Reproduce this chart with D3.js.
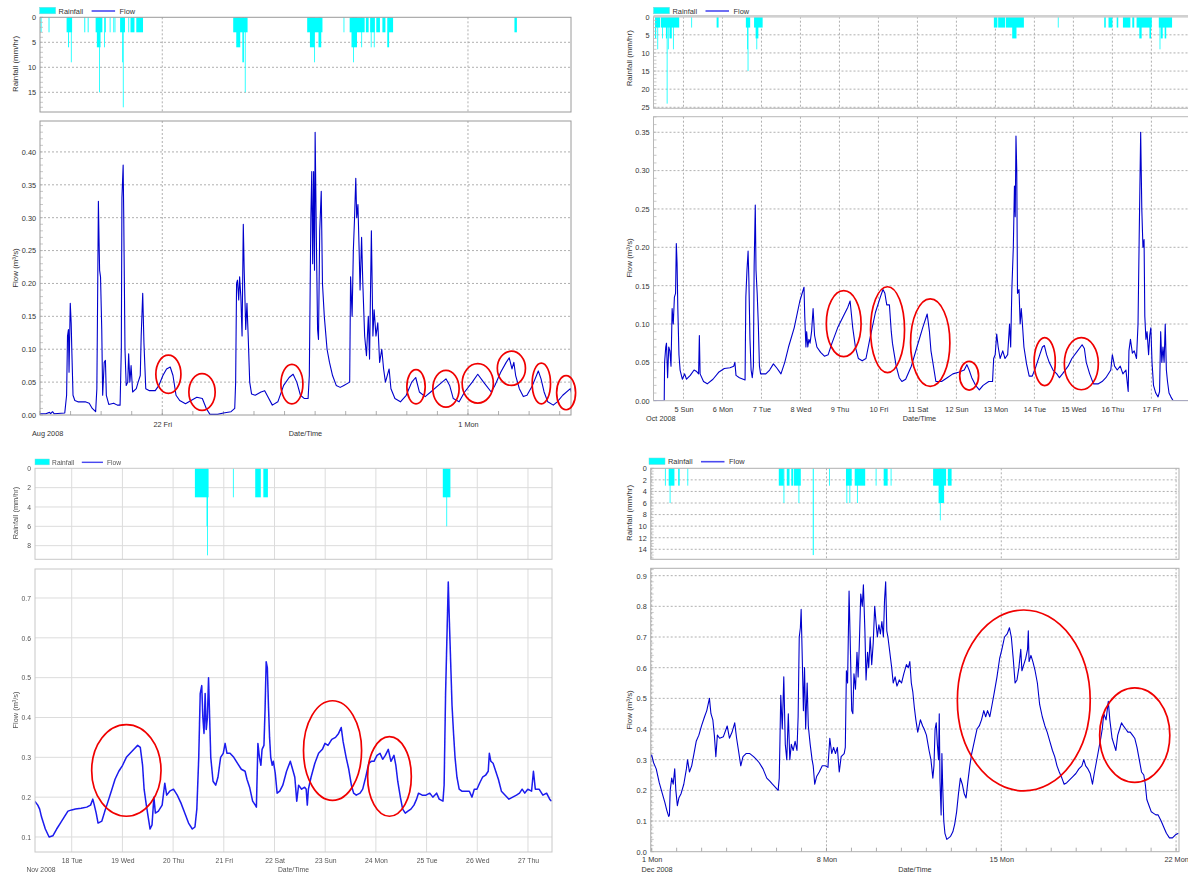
<!DOCTYPE html>
<html><head><meta charset="utf-8">
<script src="https://cdn.jsdelivr.net/npm/d3@7"></script>
<style>body{margin:0;background:#fff}</style>
</head><body>
<script>
// ---------- DATA (times = fractional day of the month) ----------
// Panel 1: August 2008 (days > 31 run into September)
const augFlow = [[18.00,0.002],[18.19,0.002],[18.31,0.004],[18.35,0.002],[18.41,0.005],[18.46,0.002],[18.81,0.003],[18.87,0.03],[18.90,0.12],[18.93,0.13],[18.95,0.065],[18.99,0.17],[19.02,0.14],[19.04,0.10],[19.08,0.03],[19.14,0.022],[19.24,0.02],[19.48,0.02],[19.61,0.018],[19.71,0.01],[19.82,0.005],[19.86,0.04],[19.88,0.15],[19.91,0.325],[19.93,0.27],[19.95,0.22],[19.98,0.21],[20.02,0.13],[20.05,0.03],[20.10,0.08],[20.14,0.083],[20.17,0.03],[20.25,0.016],[20.41,0.018],[20.53,0.015],[20.62,0.015],[20.66,0.10],[20.68,0.33],[20.72,0.38],[20.74,0.30],[20.78,0.10],[20.82,0.045],[20.87,0.05],[20.90,0.093],[20.94,0.05],[20.98,0.075],[21.03,0.035],[21.15,0.04],[21.21,0.05],[21.28,0.06],[21.31,0.12],[21.36,0.185],[21.40,0.11],[21.46,0.04],[21.58,0.037],[21.77,0.037],[21.89,0.045],[22.02,0.06],[22.14,0.07],[22.26,0.073],[22.35,0.06],[22.45,0.03],[22.57,0.022],[22.76,0.017],[22.94,0.022],[23.13,0.027],[23.31,0.025],[23.44,0.01],[23.56,0.001],[23.81,0.001],[24.00,0.003],[24.25,0.005],[24.37,0.01],[24.40,0.05],[24.43,0.20],[24.46,0.205],[24.50,0.175],[24.53,0.21],[24.57,0.18],[24.61,0.12],[24.65,0.29],[24.68,0.22],[24.73,0.13],[24.77,0.17],[24.81,0.12],[24.86,0.05],[24.92,0.032],[25.04,0.03],[25.23,0.035],[25.35,0.037],[25.45,0.028],[25.60,0.015],[25.78,0.02],[25.97,0.045],[26.15,0.057],[26.28,0.062],[26.40,0.05],[26.52,0.03],[26.65,0.025],[26.77,0.025],[26.81,0.06],[26.86,0.30],[26.89,0.37],[26.92,0.23],[26.95,0.37],[26.98,0.22],[27.00,0.43],[27.04,0.27],[27.08,0.13],[27.11,0.115],[27.15,0.28],[27.20,0.34],[27.24,0.20],[27.30,0.15],[27.39,0.10],[27.47,0.08],[27.57,0.06],[27.69,0.045],[27.82,0.042],[27.94,0.045],[28.13,0.05],[28.16,0.21],[28.21,0.15],[28.25,0.25],[28.29,0.30],[28.33,0.36],[28.36,0.30],[28.40,0.32],[28.44,0.25],[28.47,0.19],[28.52,0.27],[28.56,0.20],[28.62,0.12],[28.68,0.09],[28.74,0.15],[28.78,0.085],[28.84,0.28],[28.89,0.12],[28.93,0.16],[28.99,0.12],[29.05,0.14],[29.11,0.08],[29.18,0.10],[29.24,0.07],[29.30,0.05],[29.42,0.07],[29.48,0.04],[29.61,0.025],[29.79,0.02],[29.98,0.03],[30.16,0.05],[30.29,0.057],[30.41,0.035],[30.60,0.028],[30.78,0.035],[31.03,0.045],[31.28,0.055],[31.40,0.045],[31.52,0.025],[31.71,0.02],[31.89,0.035],[32.14,0.05],[32.32,0.062],[32.51,0.05],[32.76,0.035],[32.88,0.045],[33.07,0.065],[33.25,0.08],[33.35,0.087],[33.44,0.07],[33.50,0.08],[33.56,0.06],[33.68,0.04],[33.81,0.028],[33.93,0.03],[34.11,0.045],[34.30,0.067],[34.39,0.055],[34.49,0.035],[34.61,0.02],[34.79,0.015],[34.92,0.02],[35.10,0.03],[35.35,0.04],[35.41,0.03]];
// rainfall: [start, end, mm/hr]
const augRain = [[18.02,18.05,3],[18.28,18.31,3],[18.87,19.05,3],[18.92,18.95,6],[19.01,19.03,9],[19.45,19.48,3],[19.56,19.59,3],[19.82,20.04,3],[19.86,19.98,6],[19.93,19.95,15],[20.10,20.12,6],[20.13,20.15,3],[20.28,20.30,3],[20.40,20.42,3],[20.44,20.46,3],[20.62,20.78,3],[20.69,20.71,9],[20.71,20.73,18],[20.89,20.91,3],[20.96,21.09,3],[21.15,21.37,3],[24.32,24.79,3],[24.42,24.55,6],[24.62,24.67,9],[24.70,24.72,15],[26.74,27.24,3],[26.83,26.98,6],[26.97,26.99,9],[27.11,27.20,6],[27.93,27.95,3],[28.13,28.62,3],[28.66,28.75,3],[28.80,28.95,3],[29.00,29.12,3],[29.20,29.30,3],[29.38,29.55,3],[28.19,28.37,6],[28.24,28.26,9],[28.51,28.53,6],[28.82,28.84,6],[28.92,28.94,6],[29.36,29.42,6],[33.52,33.60,3]];
// circles: [centre day, centre flow, half-width (days), half-height (flow)]
const augCircles = [[22.20,0.062,0.41,0.029],[23.30,0.035,0.43,0.028],[26.24,0.047,0.36,0.030],[30.30,0.043,0.30,0.026],[31.28,0.040,0.43,0.028],[32.32,0.048,0.51,0.030],[33.42,0.071,0.46,0.026],[34.40,0.048,0.30,0.031],[35.21,0.034,0.31,0.026]];
const augMajorDays = [22, 32];
const augFlowTicks = [0,0.05,0.10,0.15,0.20,0.25,0.30,0.35,0.40];
const augRainTicks = [0,5,10,15];

// Panel 2: October 2008
const octFlow = [[4.205,0],[4.506,0],[4.516,0.05],[4.545,0.07],[4.564,0.075],[4.593,0.03],[4.622,0.07],[4.651,0.065],[4.680,0.045],[4.709,0.12],[4.738,0.10],[4.767,0.135],[4.797,0.14],[4.816,0.205],[4.835,0.18],[4.855,0.12],[4.884,0.06],[4.913,0.04],[4.971,0.028],[5.029,0.035],[5.078,0.028],[5.174,0.033],[5.271,0.04],[5.339,0.038],[5.388,0.035],[5.407,0.085],[5.426,0.035],[5.514,0.025],[5.610,0.022],[5.756,0.028],[5.901,0.037],[6.047,0.042],[6.192,0.043],[6.289,0.045],[6.318,0.05],[6.347,0.033],[6.434,0.03],[6.531,0.028],[6.579,0.027],[6.599,0.135],[6.628,0.17],[6.657,0.195],[6.676,0.16],[6.705,0.08],[6.734,0.04],[6.764,0.03],[6.793,0.045],[6.812,0.175],[6.841,0.255],[6.860,0.17],[6.890,0.14],[6.919,0.10],[6.948,0.045],[6.977,0.035],[7.112,0.035],[7.209,0.04],[7.306,0.048],[7.403,0.042],[7.500,0.035],[7.597,0.05],[7.694,0.07],[7.839,0.095],[7.984,0.13],[8.091,0.148],[8.110,0.11],[8.140,0.07],[8.159,0.09],[8.188,0.07],[8.217,0.08],[8.246,0.075],[8.285,0.09],[8.324,0.12],[8.362,0.085],[8.421,0.07],[8.517,0.063],[8.614,0.058],[8.711,0.06],[8.808,0.075],[8.953,0.095],[9.099,0.11],[9.215,0.122],[9.273,0.13],[9.341,0.095],[9.409,0.07],[9.486,0.055],[9.583,0.052],[9.680,0.055],[9.777,0.08],[9.922,0.115],[10.048,0.135],[10.116,0.145],[10.165,0.14],[10.213,0.125],[10.281,0.125],[10.329,0.09],[10.359,0.075],[10.407,0.06],[10.455,0.045],[10.533,0.03],[10.601,0.025],[10.698,0.028],[10.843,0.045],[10.988,0.07],[11.134,0.095],[11.250,0.113],[11.308,0.09],[11.347,0.065],[11.395,0.05],[11.473,0.025],[11.618,0.025],[11.764,0.03],[11.909,0.035],[12.054,0.037],[12.200,0.04],[12.267,0.047],[12.326,0.04],[12.393,0.03],[12.490,0.02],[12.587,0.014],[12.684,0.02],[12.829,0.025],[12.926,0.025],[12.955,0.055],[12.994,0.06],[13.033,0.087],[13.071,0.07],[13.120,0.055],[13.188,0.065],[13.246,0.055],[13.314,0.06],[13.362,0.10],[13.391,0.07],[13.421,0.145],[13.459,0.20],[13.488,0.28],[13.508,0.24],[13.527,0.345],[13.547,0.30],[13.566,0.14],[13.605,0.145],[13.634,0.10],[13.663,0.12],[13.692,0.10],[13.731,0.07],[13.798,0.048],[13.866,0.032],[13.944,0.032],[14.041,0.045],[14.138,0.06],[14.205,0.07],[14.254,0.072],[14.312,0.06],[14.380,0.05],[14.477,0.04],[14.574,0.035],[14.641,0.03],[14.719,0.035],[14.864,0.045],[14.961,0.055],[15.107,0.065],[15.223,0.073],[15.281,0.068],[15.329,0.05],[15.417,0.035],[15.514,0.022],[15.640,0.022],[15.736,0.025],[15.833,0.03],[15.959,0.04],[15.998,0.06],[16.056,0.045],[16.124,0.04],[16.202,0.045],[16.269,0.035],[16.347,0.04],[16.405,0.012],[16.424,0.065],[16.463,0.08],[16.512,0.062],[16.560,0.065],[16.618,0.055],[16.657,0.10],[16.686,0.21],[16.725,0.35],[16.754,0.25],[16.783,0.20],[16.812,0.21],[16.831,0.11],[16.860,0.08],[16.889,0.09],[16.928,0.06],[16.957,0.085],[16.986,0.095],[17.016,0.05],[17.054,0.02],[17.112,0.01],[17.171,0.005],[17.209,0.012],[17.238,0.09],[17.267,0.05],[17.297,0.07],[17.326,0.05],[17.355,0.10],[17.384,0.04],[17.413,0.025],[17.452,0.01],[17.500,0.005],[17.558,0],[17.990,0]];
const octRain = [[4.27,4.40,3],[4.42,4.89,3],[4.27,4.30,6],[4.33,4.345,9],[4.45,4.47,6],[4.55,4.58,6],[4.57,4.58,24],[4.60,4.61,9],[4.64,4.70,6],[4.73,4.745,9],[5.20,5.215,3],[5.85,5.90,3],[6.60,6.71,3],[6.63,6.64,9],[6.645,6.655,15],[6.81,7.03,3],[6.85,6.92,6],[6.87,6.885,9],[12.96,13.05,3],[13.07,13.25,3],[13.27,13.45,3],[13.47,13.73,3],[13.43,13.54,6],[14.60,14.615,3],[15.79,15.83,3],[15.90,16.00,3],[16.11,16.15,3],[16.27,16.46,3],[16.51,16.56,3],[16.62,17.01,3],[16.69,16.75,6],[16.95,16.99,6],[17.19,17.53,3],[17.21,17.225,9],[17.24,17.29,6],[17.34,17.38,6]];
const octCircles = [[9.109,0.1004,0.446,0.043],[10.233,0.0926,0.436,0.056],[11.328,0.0757,0.504,0.057],[12.326,0.0326,0.242,0.0187],[14.264,0.0509,0.271,0.0313],[15.203,0.0483,0.436,0.034]];
const octMajorDays = [5,6,7,8,9,10,11,12,13,14,15,16,17];
const octFlowTicks = [0,0.05,0.10,0.15,0.20,0.25,0.30,0.35];
const octRainTicks = [0,5,10,15,20,25];

// Panel 3: November 2008
const novFlow = [[17.271,0.19],[17.331,0.18],[17.368,0.17],[17.405,0.15],[17.480,0.12],[17.554,0.10],[17.628,0.103],[17.703,0.12],[17.777,0.135],[17.851,0.15],[17.926,0.165],[18.000,0.168],[18.074,0.17],[18.186,0.172],[18.297,0.175],[18.372,0.18],[18.416,0.195],[18.446,0.18],[18.483,0.16],[18.520,0.135],[18.595,0.14],[18.654,0.165],[18.706,0.185],[18.781,0.215],[18.855,0.245],[18.929,0.265],[19.004,0.28],[19.078,0.30],[19.152,0.31],[19.227,0.32],[19.301,0.33],[19.353,0.325],[19.398,0.28],[19.428,0.22],[19.472,0.18],[19.509,0.15],[19.546,0.12],[19.584,0.13],[19.621,0.20],[19.651,0.16],[19.710,0.165],[19.784,0.18],[19.836,0.235],[19.874,0.205],[19.933,0.215],[20.007,0.22],[20.082,0.205],[20.156,0.185],[20.230,0.16],[20.305,0.135],[20.379,0.12],[20.431,0.125],[20.468,0.17],[20.506,0.30],[20.535,0.46],[20.565,0.48],[20.587,0.40],[20.610,0.36],[20.632,0.46],[20.654,0.37],[20.677,0.40],[20.699,0.50],[20.721,0.40],[20.743,0.30],[20.788,0.24],[20.840,0.23],[20.885,0.25],[20.937,0.30],[20.989,0.31],[21.026,0.335],[21.063,0.31],[21.123,0.31],[21.197,0.30],[21.271,0.285],[21.346,0.27],[21.420,0.265],[21.457,0.245],[21.509,0.225],[21.569,0.19],[21.621,0.18],[21.643,0.175],[21.673,0.335],[21.703,0.30],[21.732,0.28],[21.755,0.32],[21.792,0.33],[21.814,0.42],[21.836,0.54],[21.859,0.525],[21.881,0.43],[21.903,0.35],[21.926,0.30],[21.955,0.28],[21.978,0.29],[22.015,0.26],[22.052,0.21],[22.104,0.215],[22.164,0.23],[22.238,0.265],[22.312,0.29],[22.357,0.27],[22.401,0.25],[22.439,0.19],[22.476,0.23],[22.535,0.22],[22.595,0.225],[22.625,0.22],[22.647,0.18],[22.669,0.22],[22.721,0.25],[22.796,0.285],[22.870,0.31],[22.944,0.32],[22.996,0.335],[23.056,0.33],[23.130,0.345],[23.204,0.35],[23.264,0.36],[23.316,0.375],[23.353,0.34],[23.413,0.30],[23.465,0.27],[23.517,0.23],[23.561,0.21],[23.613,0.205],[23.688,0.21],[23.740,0.22],[23.799,0.25],[23.859,0.285],[23.911,0.29],[23.963,0.29],[24.022,0.305],[24.082,0.31],[24.134,0.295],[24.186,0.305],[24.245,0.32],[24.297,0.29],[24.357,0.305],[24.394,0.28],[24.431,0.24],[24.483,0.20],[24.528,0.17],[24.580,0.16],[24.632,0.165],[24.691,0.17],[24.751,0.18],[24.803,0.195],[24.840,0.21],[24.914,0.205],[24.989,0.205],[25.063,0.21],[25.123,0.20],[25.197,0.21],[25.249,0.195],[25.323,0.19],[25.346,0.23],[25.375,0.46],[25.405,0.62],[25.428,0.74],[25.450,0.64],[25.480,0.52],[25.502,0.43],[25.532,0.36],[25.561,0.30],[25.599,0.25],[25.643,0.22],[25.695,0.215],[25.770,0.215],[25.844,0.215],[25.896,0.20],[25.941,0.22],[25.993,0.22],[26.045,0.235],[26.104,0.25],[26.164,0.255],[26.216,0.265],[26.238,0.31],[26.268,0.29],[26.312,0.285],[26.364,0.265],[26.416,0.245],[26.476,0.215],[26.550,0.205],[26.625,0.195],[26.699,0.20],[26.773,0.205],[26.833,0.21],[26.885,0.22],[26.937,0.21],[26.996,0.22],[27.071,0.215],[27.108,0.265],[27.145,0.22],[27.219,0.22],[27.294,0.205],[27.368,0.21],[27.428,0.195],[27.465,0.19]];
const novRain = [[20.43,20.70,3],[20.66,20.685,6],[20.67,20.68,9],[21.18,21.195,3],[21.62,21.73,3],[21.78,21.87,3],[25.32,25.47,3],[25.39,25.405,6]];
const novCircles = [[19.078,0.267,0.684,0.115],[23.145,0.317,0.573,0.125],[24.268,0.252,0.431,0.100]];
const novMajorDays = [18,19,20,21,22,23,24,25,26,27];
const novFlowTicks = [0.1,0.2,0.3,0.4,0.5,0.6,0.7];
const novRainTicks = [0,2,4,6,8];

// Panel 4: December 2008
const decFlow = [[0.970,0.31],[1.000,0.315],[1.076,0.29],[1.181,0.27],[1.302,0.225],[1.423,0.19],[1.529,0.16],[1.605,0.135],[1.680,0.115],[1.710,0.12],[1.741,0.20],[1.801,0.24],[1.861,0.22],[1.922,0.27],[1.967,0.20],[2.028,0.15],[2.088,0.175],[2.179,0.19],[2.285,0.22],[2.390,0.27],[2.436,0.30],[2.511,0.26],[2.602,0.28],[2.693,0.32],[2.783,0.36],[2.889,0.38],[2.995,0.41],[3.116,0.44],[3.206,0.46],[3.312,0.50],[3.373,0.45],[3.448,0.43],[3.509,0.38],[3.569,0.31],[3.630,0.38],[3.720,0.37],[3.871,0.375],[4.023,0.41],[4.113,0.37],[4.219,0.39],[4.325,0.42],[4.400,0.37],[4.476,0.33],[4.567,0.28],[4.657,0.31],[4.778,0.32],[4.929,0.32],[5.080,0.31],[5.201,0.30],[5.307,0.29],[5.458,0.27],[5.609,0.24],[5.730,0.23],[5.836,0.22],[5.957,0.21],[6.063,0.20],[6.108,0.24],[6.138,0.37],[6.169,0.51],[6.229,0.40],[6.290,0.57],[6.350,0.35],[6.410,0.30],[6.471,0.45],[6.531,0.30],[6.592,0.35],[6.667,0.33],[6.743,0.36],[6.818,0.33],[6.864,0.44],[6.909,0.70],[6.954,0.73],[6.985,0.79],[7.030,0.63],[7.075,0.46],[7.121,0.60],[7.166,0.40],[7.226,0.55],[7.272,0.41],[7.347,0.35],[7.423,0.30],[7.468,0.28],[7.529,0.22],[7.604,0.245],[7.710,0.26],[7.831,0.28],[7.952,0.28],[8.058,0.275],[8.133,0.37],[8.209,0.32],[8.284,0.34],[8.360,0.32],[8.435,0.34],[8.511,0.26],[8.587,0.31],[8.708,0.32],[8.753,0.34],[8.798,0.59],[8.844,0.55],[8.904,0.85],[8.949,0.69],[9.010,0.46],[9.055,0.45],[9.100,0.58],[9.161,0.53],[9.221,0.65],[9.267,0.57],[9.312,0.67],[9.372,0.84],[9.433,0.80],[9.478,0.87],[9.538,0.72],[9.584,0.56],[9.644,0.65],[9.690,0.60],[9.750,0.70],[9.811,0.61],[9.871,0.68],[9.931,0.80],[9.992,0.74],[10.037,0.70],[10.098,0.74],[10.158,0.71],[10.218,0.75],[10.279,0.70],[10.324,0.82],[10.370,0.88],[10.415,0.72],[10.460,0.70],[10.521,0.66],[10.611,0.60],[10.672,0.55],[10.748,0.57],[10.823,0.54],[10.914,0.56],[11.005,0.55],[11.095,0.58],[11.201,0.61],[11.277,0.60],[11.337,0.62],[11.397,0.55],[11.458,0.52],[11.518,0.47],[11.579,0.43],[11.654,0.39],[11.760,0.43],[11.851,0.41],[11.911,0.40],[12.002,0.38],[12.108,0.33],[12.183,0.30],[12.259,0.24],[12.304,0.28],[12.349,0.40],[12.395,0.42],[12.440,0.35],[12.486,0.30],[12.516,0.45],[12.546,0.23],[12.591,0.12],[12.622,0.32],[12.652,0.22],[12.697,0.10],[12.743,0.06],[12.818,0.04],[12.894,0.045],[12.969,0.05],[13.060,0.065],[13.135,0.09],[13.211,0.13],[13.287,0.19],[13.362,0.24],[13.438,0.22],[13.513,0.19],[13.589,0.175],[13.664,0.23],[13.740,0.28],[13.815,0.32],[13.921,0.36],[14.027,0.40],[14.118,0.41],[14.208,0.43],[14.299,0.46],[14.375,0.44],[14.450,0.46],[14.541,0.44],[14.632,0.48],[14.722,0.52],[14.828,0.57],[14.934,0.63],[15.024,0.66],[15.130,0.70],[15.236,0.71],[15.327,0.73],[15.402,0.70],[15.478,0.63],[15.553,0.55],[15.629,0.56],[15.705,0.60],[15.780,0.66],[15.826,0.59],[15.901,0.61],[15.977,0.63],[16.052,0.66],[16.082,0.72],[16.113,0.62],[16.188,0.64],[16.264,0.62],[16.354,0.59],[16.445,0.55],[16.536,0.48],[16.642,0.44],[16.747,0.41],[16.838,0.39],[16.944,0.36],[17.050,0.33],[17.140,0.31],[17.231,0.28],[17.322,0.26],[17.427,0.24],[17.518,0.22],[17.624,0.225],[17.745,0.235],[17.866,0.245],[17.987,0.255],[18.108,0.27],[18.228,0.28],[18.304,0.30],[18.380,0.28],[18.470,0.27],[18.561,0.255],[18.652,0.22],[18.712,0.25],[18.803,0.29],[18.893,0.33],[18.984,0.37],[19.044,0.40],[19.105,0.45],[19.195,0.43],[19.286,0.49],[19.347,0.43],[19.437,0.37],[19.513,0.35],[19.589,0.33],[19.664,0.38],[19.740,0.40],[19.815,0.42],[19.891,0.41],[19.982,0.40],[20.072,0.39],[20.163,0.39],[20.254,0.38],[20.344,0.37],[20.435,0.34],[20.526,0.30],[20.616,0.26],[20.707,0.25],[20.767,0.22],[20.828,0.17],[20.918,0.15],[21.009,0.13],[21.100,0.125],[21.190,0.12],[21.281,0.12],[21.402,0.10],[21.508,0.08],[21.613,0.06],[21.734,0.045],[21.855,0.045],[21.976,0.055],[22.097,0.06]];
const decRain = [[1.53,1.545,3],[1.68,1.91,3],[1.72,1.74,6],[2.06,2.12,3],[2.43,2.445,3],[6.09,6.29,3],[6.28,6.30,6],[6.41,6.52,3],[6.59,6.67,3],[6.70,6.97,3],[6.88,6.90,6],[7.45,7.49,15],[8.10,8.115,3],[8.78,9.01,3],[8.80,8.83,6],[8.92,8.95,6],[9.13,9.55,3],[9.22,9.25,6],[9.97,9.985,3],[10.29,10.45,3],[10.57,10.59,3],[12.27,12.79,3],[12.49,12.71,6],[12.54,12.56,9],[12.86,13.01,3]];
const decCircles = [[15.901,0.493,2.66,0.295],[20.344,0.380,1.405,0.154]];
const decMajorDays = [1,8,15,22];
const decFlowTicks = [0,0.1,0.2,0.3,0.4,0.5,0.6,0.7,0.8,0.9];
const decRainTicks = [0,2,4,6,8,10,12,14];

// ---------- LAYOUT ----------
const W = 1188, H = 876;
const T = (m, d) => new Date(Date.UTC(2008, m, 1) + (d - 1) * 864e5);
const svg = d3.select("body").append("svg").attr("width", W).attr("height", H)
  .style("font-family", "'Liberation Sans', Arial, sans-serif");
const defs = svg.append("defs");
defs.append("filter").attr("id", "soft").append("feGaussianBlur").attr("stdDeviation", 0.45);

const panels = [
  {id:"a", month:7, d0:18.0, d1:35.37, xl:40, xr:571, rt:17.3, rb:112, rMax:18.94, ft:121, fb:415, fMin:0, fMax:0.447,
   flow:augFlow, rain:augRain, circles:augCircles, majors:augMajorDays, fTicks:augFlowTicks, rTicks:augRainTicks,
   fFmt:".2f", fMinor:0.01, rMinor:1, dailyMinor:true, grid:"dash", border:"#9a9a9a",
   leg:[39.6,7.3,1], tlDy:12, monthLab:"Aug 2008", mX:32, mY:436, dtX:305.5, dtY:435.5,
   rTitle:[15,64], fTitle:[15,268], fs:7.3, txt:"#333", line:"#0000cc", lw:1.1},
  {id:"b", month:9, d0:4.231, d1:17.99, xl:653.5, xr:1190, rt:16.7, rb:108.3, rMax:25.28, ft:116.7, fb:400.7, fMin:0, fMax:0.3703,
   flow:octFlow, rain:octRain, circles:octCircles, majors:octMajorDays, fTicks:octFlowTicks, rTicks:octRainTicks,
   fFmt:".2f", fMinor:0.01, rMinor:1, dailyMinor:false, grid:"dash", border:"#b8b8b8", rTopW:2.5,
   leg:[653.5,7.3,1], tlDy:11.3, monthLab:"Oct 2008", mX:646, mY:421, dtX:919.5, dtY:421,
   rTitle:[629.7,58.3], fTitle:[629,258], fs:7.3, txt:"#333", line:"#0000cc", lw:1.1},
  {id:"c", month:10, d0:17.276, d1:27.474, xl:35, xr:552, rt:468.3, rb:559.3, rMax:9.41, ft:569, fb:852, fMin:0.0623, fMax:0.7728,
   flow:novFlow, rain:novRain, circles:novCircles, majors:novMajorDays, fTicks:novFlowTicks, rTicks:novRainTicks,
   fFmt:".1f", fMinor:0, rMinor:0, dailyMinor:false, grid:"solid", border:"#c8c8c8", blur:true,
   leg:[35,459,0.9], tlDy:10.5, monthLab:"Nov 2008", mX:26.4, mY:871.5, dtX:293.5, dtY:871.5,
   rTitle:[15,513], fTitle:[15,710], fs:6.8, txt:"#555", line:"#1a1aee", lw:1.5},
  {id:"d", month:11, d0:0.96, d1:22.117, xl:650.7, xr:1179, rt:468.3, rb:559.3, rMax:15.73, ft:568.3, fb:851.7, fMin:0, fMax:0.924,
   flow:decFlow, rain:decRain, circles:decCircles, majors:decMajorDays, fTicks:decFlowTicks, rTicks:decRainTicks,
   fFmt:".1f", fMinor:0.02, rMinor:0.5, dailyMinor:true, grid:"dash", border:"#b0b0b0",
   leg:[649,458,1], tlDy:10.5, monthLab:"Dec 2008", mX:641.4, mY:871.5, dtX:914.9, dtY:871.5,
   rTitle:[629.7,513], fTitle:[629,710], fs:7.3, txt:"#333", line:"#0000cc", lw:1.1}
];

function gridStyle(sel, c) {
  if (c.grid === "dash") sel.attr("stroke", "#9c9c9c").attr("stroke-width", 0.8).attr("stroke-dasharray", "2,2");
  else sel.attr("stroke", "#dcdcdc").attr("stroke-width", 1);
}

function drawPanel(c) {
  const g = svg.append("g");
  if (c.blur) g.attr("filter", "url(#soft)");
  const t = d => T(c.month, d);
  const x = d3.scaleUtc().domain([t(c.d0), t(c.d1)]).range([c.xl, c.xr]);
  const yr = d3.scaleLinear().domain([0, c.rMax]).range([c.rt, c.rb]);
  const yf = d3.scaleLinear().domain([c.fMin, c.fMax]).range([c.fb, c.ft]);
  const majors = c.majors.map(t);

  defs.append("clipPath").attr("id", "rc" + c.id).append("rect")
    .attr("x", c.xl).attr("y", c.rt).attr("width", c.xr - c.xl).attr("height", c.rb - c.rt);
  defs.append("clipPath").attr("id", "fc" + c.id).append("rect")
    .attr("x", c.xl).attr("y", c.ft).attr("width", c.xr - c.xl).attr("height", c.fb - c.ft);

  // ---- rainfall plot ----
  const rg = g.append("g");
  rg.append("rect").attr("x", c.xl).attr("y", c.rt).attr("width", c.xr - c.xl).attr("height", c.rb - c.rt).attr("fill", "#fff");
  gridStyle(rg.append("g").selectAll("line").data(c.rTicks.filter(v => v > 0)).join("line")
    .attr("x1", c.xl).attr("x2", c.xr).attr("y1", d => yr(d)).attr("y2", d => yr(d)), c);
  gridStyle(rg.append("g").selectAll("line").data(majors).join("line")
    .attr("x1", d => x(d)).attr("x2", d => x(d)).attr("y1", c.rt).attr("y2", c.rb), c);
  rg.append("g").attr("clip-path", `url(#rc${c.id})`).selectAll("rect").data(c.rain).join("rect")
    .attr("x", d => x(t(d[0])))
    .attr("width", d => Math.max(0.8, x(t(d[1])) - x(t(d[0]))))
    .attr("y", yr(0)).attr("height", d => yr(d[2]) - yr(0))
    .attr("fill", "#00ffff");
  if (c.rMinor) {
    rg.append("g").selectAll("line").data(d3.range(0, c.rMax, c.rMinor)).join("line")
      .attr("x1", c.xl).attr("x2", c.xl + 3).attr("y1", d => yr(d)).attr("y2", d => yr(d))
      .attr("stroke", "#bbb").attr("stroke-width", 0.8);
  }
  rg.append("rect").attr("x", c.xl).attr("y", c.rt).attr("width", c.xr - c.xl).attr("height", c.rb - c.rt)
    .attr("fill", "none").attr("stroke", c.border).attr("stroke-width", 1);
  if (c.rTopW) {
    rg.append("line").attr("x1", c.xl).attr("x2", c.xr).attr("y1", c.rt - 0.5).attr("y2", c.rt - 0.5)
      .attr("stroke", "#d0d0d0").attr("stroke-width", c.rTopW);
  }
  const ra = rg.append("g").attr("transform", `translate(${c.xl},0)`)
    .call(d3.axisLeft(yr).tickValues(c.rTicks).tickFormat(d3.format("d")).tickSize(0).tickPadding(4));
  ra.select(".domain").remove();
  ra.selectAll("text").attr("font-size", c.fs).attr("fill", c.txt).attr("font-family", null);

  // ---- flow plot ----
  const fg = g.append("g");
  gridStyle(fg.append("g").selectAll("line").data(c.fTicks.filter(v => v > c.fMin + 1e-9 && v > 0)).join("line")
    .attr("x1", c.xl).attr("x2", c.xr).attr("y1", d => yf(d)).attr("y2", d => yf(d)), c);
  gridStyle(fg.append("g").selectAll("line").data(majors).join("line")
    .attr("x1", d => x(d)).attr("x2", d => x(d)).attr("y1", c.ft).attr("y2", c.fb), c);
  if (c.fMinor) {
    fg.append("g").selectAll("line").data(d3.range(c.fMin, c.fMax, c.fMinor)).join("line")
      .attr("x1", c.xl).attr("x2", c.xl + 3).attr("y1", d => yf(d)).attr("y2", d => yf(d))
      .attr("stroke", "#bbb").attr("stroke-width", 0.8);
  }
  if (c.dailyMinor) {
    fg.append("g").selectAll("line").data(d3.utcDay.range(t(c.d0), t(c.d1))).join("line")
      .attr("x1", d => x(d)).attr("x2", d => x(d)).attr("y1", c.fb - 4).attr("y2", c.fb)
      .attr("stroke", "#999").attr("stroke-width", 0.8);
  }
  fg.append("path").datum(c.flow).attr("clip-path", `url(#fc${c.id})`)
    .attr("d", d3.line().x(d => x(t(d[0]))).y(d => yf(d[1])))
    .attr("fill", "none").attr("stroke", c.line).attr("stroke-width", c.lw).attr("stroke-linejoin", "round");
  fg.append("rect").attr("x", c.xl).attr("y", c.ft).attr("width", c.xr - c.xl).attr("height", c.fb - c.ft)
    .attr("fill", "none").attr("stroke", c.border).attr("stroke-width", 1);
  const fa = fg.append("g").attr("transform", `translate(${c.xl},0)`)
    .call(d3.axisLeft(yf).tickValues(c.fTicks).tickFormat(d3.format(c.fFmt)).tickSize(0).tickPadding(4));
  fa.select(".domain").remove();
  fa.selectAll("text").attr("font-size", c.fs).attr("fill", c.txt).attr("font-family", null);
  const xa = fg.append("g").attr("transform", `translate(0,${c.fb})`)
    .call(d3.axisBottom(x).tickValues(majors).tickFormat(d3.utcFormat("%-d %a")).tickSize(0));
  xa.select(".domain").remove();
  xa.selectAll("text").attr("font-size", c.fs).attr("fill", c.txt).attr("font-family", null)
    .attr("dy", null).attr("y", c.tlDy);

  // red circles
  fg.append("g").selectAll("ellipse").data(c.circles).join("ellipse")
    .attr("cx", d => x(t(d[0])))
    .attr("cy", d => yf(d[1]))
    .attr("rx", d => x(t(d[0] + d[2])) - x(t(d[0])))
    .attr("ry", d => yf(d[1] - d[3]) - yf(d[1]))
    .attr("fill", "none").attr("stroke", "#f00000").attr("stroke-width", 1.7);

  // labels
  g.append("text").attr("x", c.mX).attr("y", c.mY).attr("font-size", c.fs).attr("fill", c.txt).text(c.monthLab);
  g.append("text").attr("x", c.dtX).attr("y", c.dtY).attr("font-size", c.fs).attr("fill", c.txt)
    .attr("text-anchor", "middle").text("Date/Time");
  g.append("text").attr("transform", `translate(${c.rTitle[0]},${c.rTitle[1]}) rotate(-90)`)
    .attr("text-anchor", "middle").attr("dy", "0.35em").attr("font-size", c.fs + 0.6).attr("fill", c.txt)
    .text("Rainfall (mm/hr)");
  g.append("text").attr("transform", `translate(${c.fTitle[0]},${c.fTitle[1]}) rotate(-90)`)
    .attr("text-anchor", "middle").attr("dy", "0.35em").attr("font-size", c.fs + 0.6).attr("fill", c.txt)
    .text("Flow (m³/s)");

  // legend
  const [lx, ly, s] = c.leg;
  const lg = g.append("g").attr("transform", `translate(${lx},${ly}) scale(${s})`);
  lg.append("rect").attr("x", 0).attr("y", 0).attr("width", 16).attr("height", 6.5)
    .attr("fill", "#00ffff").attr("stroke", "#7fd8d8").attr("stroke-width", 0.5);
  lg.append("text").attr("x", 19).attr("y", 6.3).attr("font-size", 7.4).attr("fill", c.txt).text("Rainfall");
  lg.append("line").attr("x1", 52).attr("x2", 75.5).attr("y1", 3.7).attr("y2", 3.7)
    .attr("stroke", "#4a4af0").attr("stroke-width", 1.6);
  lg.append("text").attr("x", 80).attr("y", 6.3).attr("font-size", 7.4).attr("fill", c.txt).text("Flow");
}

panels.forEach(drawPanel);
</script>
</body></html>
